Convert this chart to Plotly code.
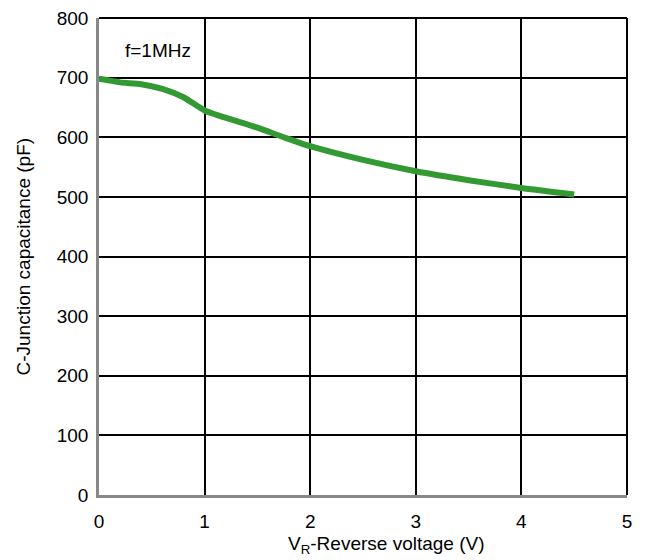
import plotly.graph_objects as go

voltage = [0, 0.2, 0.4, 0.6, 0.8, 1.0, 1.25, 1.5, 1.75, 2.0, 2.5, 3.0, 3.5, 4.0, 4.5]
capacitance = [698, 692, 689, 681, 667, 645, 630, 616, 600, 585, 562, 543, 528, 515, 504]
x_ticks = [0, 1, 2, 3, 4, 5]
y_ticks = [0, 100, 200, 300, 400, 500, 600, 700, 800]

fig = go.Figure()
fig.add_trace(go.Scatter(
    x=voltage, y=capacitance, mode="lines",
    line=dict(color="#339933", width=6, shape="spline", smoothing=0.6),
    showlegend=False,
))

font = dict(family="Liberation Sans, Arial, sans-serif", size=19, color="black")
fig.update_layout(
    width=638, height=552,
    margin=dict(l=91, r=19, t=10, b=65, autoexpand=False),
    paper_bgcolor="white", plot_bgcolor="white",
    font=font,
    xaxis=dict(range=[0, 5], tickvals=x_ticks, showgrid=True, gridcolor="black", gridwidth=1.5,
               showline=True, linecolor="#888888", linewidth=2.5, zeroline=False,
               ticks="", ticklabelstandoff=7, automargin=False, tickfont=font,
               ticklabeloverflow="allow"),
    yaxis=dict(range=[0, 800], tickvals=y_ticks, showgrid=True, gridcolor="black", gridwidth=1.5,
               showline=True, linecolor="#888888", linewidth=2.5, zeroline=False,
               ticks="", ticklabelstandoff=4, automargin=False, tickfont=font,
               ticklabeloverflow="allow"),
    shapes=[
        dict(type="line", xref="paper", yref="paper", x0=0, x1=1, y0=1, y1=1,
             line=dict(color="black", width=2)),
        dict(type="line", xref="paper", yref="paper", x0=1, x1=1, y0=0, y1=1,
             line=dict(color="black", width=2)),
    ],
    annotations=[
        dict(x=0.227, y=745, xref="x", yref="y", text="f=1MHz", showarrow=False,
             xanchor="left", yanchor="middle", font=font),
        dict(x=0.5436, y=0, xref="paper", yref="paper", yshift=-50,
             text="V<sub>R</sub>-Reverse voltage (V)", showarrow=False,
             xanchor="center", yanchor="middle", font=font),
        dict(x=0, y=0.5, xref="paper", yref="paper", xshift=-76, textangle=-90,
             text="C-Junction capacitance (pF)", showarrow=False,
             xanchor="center", yanchor="middle", font=font),
    ],
)

fig.write_html("out.html")
